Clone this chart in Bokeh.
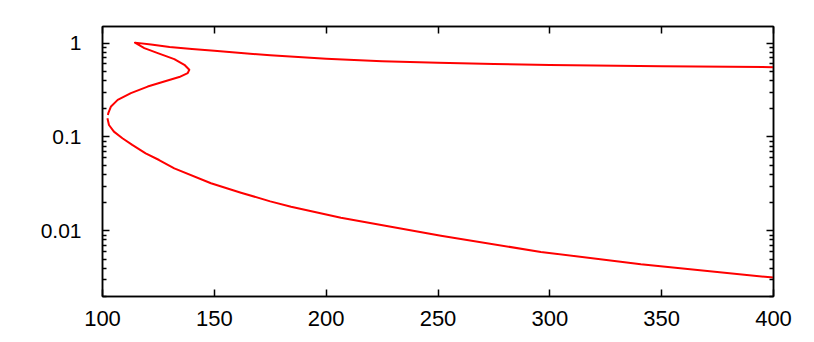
from bokeh.plotting import figure
from bokeh.models import FixedTicker, LinearAxis, LogAxis, CustomLabelingPolicy
from bokeh.embed import file_html
from bokeh.resources import INLINE

# Branch 1: upper branch (from x=400 back to the cusp), then the loop down to the leftmost point
branch1_x = [400, 350, 300, 275, 250, 225, 200, 175, 150, 140, 130, 121.7, 114.5,
             118.7, 124.7, 132.1, 136.6, 138.8, 138.1, 134.3, 127.6, 120.2,
             112.7, 106.8, 103.8, 102.6, 102.4]
branch1_y = [0.553, 0.566, 0.585, 0.598, 0.615, 0.641, 0.68, 0.74, 0.828, 0.865, 0.91, 0.965, 1.01,
             0.884, 0.782, 0.675, 0.587, 0.519, 0.478, 0.434, 0.389, 0.344,
             0.293, 0.248, 0.211, 0.179, 0.171]

# Branch 2: from the leftmost point down along the lower branch to x=400
branch2_x = [102.2, 102.9, 105.1, 108.9, 113.3, 119.3, 125.3, 132.1, 148.5,
             161.9, 175, 184.3, 206.6, 251.3, 296.0, 340.7, 400]
branch2_y = [0.158, 0.134, 0.114, 0.0969, 0.0822, 0.0670, 0.0568, 0.0462, 0.0321,
             0.0255, 0.0206, 0.0181, 0.0138, 0.00885, 0.00597, 0.0044, 0.00318]

x_ticks = [100, 150, 200, 250, 300, 350, 400]
y_ticks = [0.01, 0.1, 1]
y_minor = [m * 10.0 ** e for e in range(-3, 0) for m in range(2, 10)]

FONT = "Liberation Sans"

p = figure(width=814, height=342, x_range=(100, 400), y_range=(0.002, 1.5),
           y_axis_type="log", output_backend="svg", toolbar_location=None,
           min_border_left=102, min_border_right=41, min_border_top=26,
           min_border_bottom=46)
p.grid.visible = False
p.outline_line_color = "black"
p.outline_line_width = 1.5
p.background_fill_color = "white"
p.border_fill_color = "white"

xt = FixedTicker(ticks=x_ticks, minor_ticks=[])
yt = FixedTicker(ticks=y_ticks, minor_ticks=y_minor)

no_labels = CustomLabelingPolicy(code="""
const n = indices.size
for (let i = 0; i < n; i++) { indices.unset(i) }
return indices
""")

def style(ax):
    ax.axis_line_color = "black"
    ax.axis_line_width = 1.5
    ax.major_tick_in = 7
    ax.major_tick_out = 0
    ax.minor_tick_in = 4
    ax.minor_tick_out = 0
    ax.major_tick_line_color = "black"
    ax.major_tick_line_width = 1.5
    ax.minor_tick_line_color = "black"
    ax.minor_tick_line_width = 1.5
    ax.major_label_text_font = FONT
    ax.major_label_text_color = "black"

xa = p.xaxis[0]
xa.ticker = xt
style(xa)
xa.major_label_text_font_size = "22px"
xa.major_label_standoff = 14

ya = p.yaxis[0]
ya.ticker = yt
ya.major_label_overrides = {0.01: "0.01", 0.1: "0.1", 1: "1"}
style(ya)
ya.major_label_text_font_size = "21px"
ya.major_label_standoff = 21

top = LinearAxis(ticker=xt, major_label_policy=no_labels)
style(top)
top.major_label_standoff = 0
p.add_layout(top, "above")

right = LogAxis(ticker=yt, major_label_policy=no_labels)
style(right)
right.major_label_standoff = 0
p.add_layout(right, "right")

p.line(branch1_x, branch1_y, line_color="#ff0000", line_width=2, line_join="round")
p.line(branch2_x, branch2_y, line_color="#ff0000", line_width=2, line_join="round")

open("out.html", "w").write(file_html(p, INLINE))
